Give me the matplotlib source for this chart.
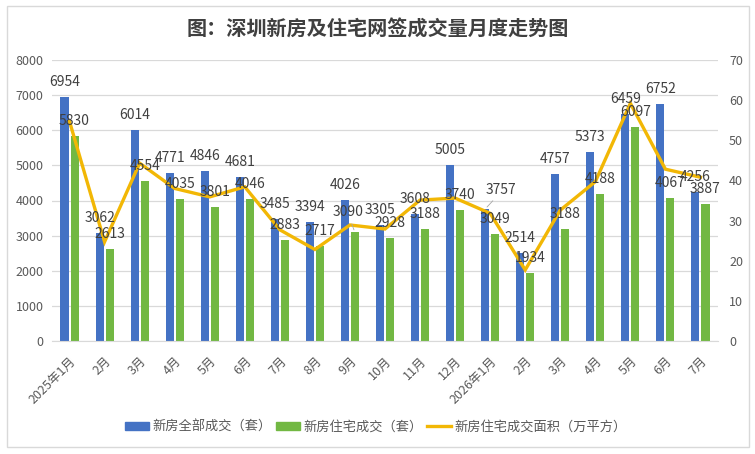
import matplotlib
matplotlib.use("Agg")
import matplotlib.pyplot as plt
from matplotlib.patches import Patch, Rectangle
from matplotlib.lines import Line2D
import numpy as np

plt.rcParams['font.family'] = ['Noto Sans CJK SC', 'DejaVu Sans']

months = ["2025年1月", "2月", "3月", "4月", "5月", "6月", "7月", "8月", "9月", "10月",
          "11月", "12月", "2026年1月", "2月", "3月", "4月", "5月", "6月", "7月"]
total_units = [6954, 3062, 6014, 4771, 4846, 4681, 3485, 3394, 4026, 3305,
               3608, 5005, 3757, 2514, 4757, 5373, 6459, 6752, 4256]
resi_units = [5830, 2613, 4554, 4035, 3801, 4046, 2883, 2717, 3090, 2928,
              3188, 3740, 3049, 1934, 3188, 4188, 6097, 4067, 3887]
resi_area = [54.7, 24.7, 44.3, 38.0, 35.9, 38.4, 27.7, 22.8, 28.9, 27.9,
             35.1, 35.6, 31.8, 17.7, 32.6, 39.7, 59.2, 42.8, 40.8]

title = "图：深圳新房及住宅网签成交量月度走势图"
s1_name = "新房全部成交（套）"
s2_name = "新房住宅成交（套）"
s3_name = "新房住宅成交面积（万平方）"

BLUE = "#4472C4"
GREEN = "#72B843"
GOLD = "#F2B705"
TXT = "#404040"
TICK = "#595959"
GRID = "#D9D9D9"

fig = plt.figure(figsize=(7.55, 4.54), dpi=100)
ax = fig.add_axes([52/755, 1-341/454, (718-52)/755, (341-60)/454])
ax2 = ax.twinx()

x = np.arange(len(months))
w = 0.23
off = 0.143
ax.bar(x - off, total_units, width=w, color=BLUE, zorder=2)
ax.bar(x + off, resi_units, width=w, color=GREEN, zorder=2)
ax2.plot(x, resi_area, color=GOLD, lw=2.4, zorder=3, solid_joinstyle='miter')

ax.set_xlim(-0.5, len(months) - 0.5)
ax.set_ylim(0, 8000)
ax.set_yticks(np.arange(0, 8001, 1000))
ax2.set_ylim(0, 70)
ax2.set_yticks(np.arange(0, 71, 10))

ax.grid(axis='y', color=GRID, lw=0.9, zorder=0)
ax.set_axisbelow(True)
for a in (ax, ax2):
    for s in ['top', 'right', 'left']:
        a.spines[s].set_visible(False)
    a.spines['bottom'].set_color(GRID)
    a.tick_params(length=0, colors=TICK, labelsize=9)
ax2.spines['bottom'].set_visible(False)
ax.tick_params(axis='y', pad=6)
ax2.tick_params(axis='y', pad=8)

ax.set_xticks(x)
ax.set_xticklabels(months, rotation=45, ha='right', rotation_mode='anchor', fontsize=9, color=TICK)
ax.tick_params(axis='x', pad=10)

# data labels
special = {('t', 12): (11.5, 13.5), ('r', 8): (-5, 14.5)}
for i in range(len(months)):
    for key, vals, dx in (('t', total_units, -off), ('r', resi_units, off)):
        v = vals[i]
        o = special.get((key, i), (0, 10.8))
        ax2.annotate(str(v), xy=(x[i] + dx, v), xycoords=ax.transData,
                     xytext=o, textcoords='offset points', ha='center', va='center',
                     fontsize=10, color=TXT, zorder=5)
# leader lines
for key, i, vals, dx in (('t', 12, total_units, -off), ('r', 8, resi_units, off)):
    v = vals[i]
    ox, oy = special[(key, i)]
    ax2.annotate("", xy=(x[i] + dx, v), xycoords=ax.transData,
                 xytext=(ox * 0.6, oy * 0.55), textcoords='offset points',
                 arrowprops=dict(arrowstyle='-', color='#A6A6A6', lw=0.6), zorder=4)

fig.text(378/755, 1-29/454, title, ha='center', va='center', fontsize=14.5,
         fontweight='bold', color=TXT)

handles = [Patch(color=BLUE), Patch(color=GREEN), Line2D([0], [0], color=GOLD, lw=2.4)]
fig.legend(handles, [s1_name, s2_name, s3_name], loc='center', bbox_to_anchor=(376/755, 1-427/454),
           ncol=3, frameon=False, fontsize=9.5, handlelength=1.8, handleheight=0.6,
           handletextpad=0.3, columnspacing=0.3, labelcolor=TICK)

fig.patches.append(Rectangle((7/755, 1-447/454), (749-7)/755, (447-6)/454,
                             transform=fig.transFigure, fill=False, ec=GRID, lw=1))

fig.savefig("out.png", dpi=100)
